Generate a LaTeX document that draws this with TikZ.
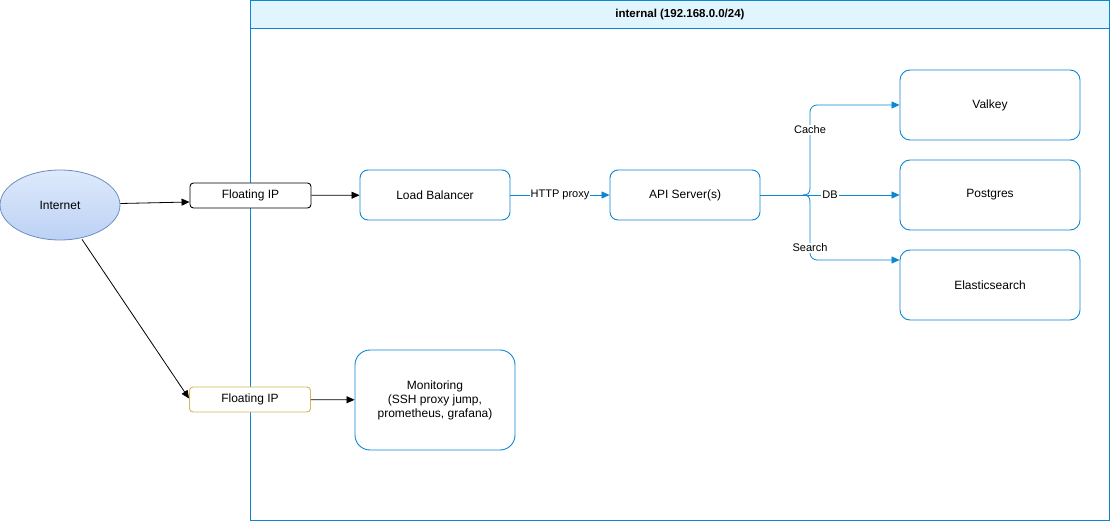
\documentclass[tikz,border=0pt]{standalone}
\usepackage{fontspec}
\setmainfont{Liberation Sans}
\usetikzlibrary{arrows.meta,shapes.geometric}
\definecolor{cblue}{HTML}{0A86D2}
\definecolor{hdrfill}{HTML}{E1F5FE}
\definecolor{ellstroke}{HTML}{6C8EBF}
\definecolor{elltop}{HTML}{DEEAFC}
\definecolor{ellbot}{HTML}{BCD1F4}
\definecolor{ystroke}{HTML}{D6B656}
\tikzset{
  box/.style={draw=cblue, line width=0.9pt, rounded corners=#1, inner sep=0pt, font=\fontsize{12}{14}\selectfont, align=center},
  box/.default=8pt,
  fip/.style={draw=#1, line width=0.9pt, rounded corners=3.5pt, minimum width=121pt, minimum height=25pt, inner sep=0pt, font=\fontsize{12}{14}\selectfont},
  blk/.style={-{Triangle[length=8pt,width=7pt]}, line width=0.8pt, black},
  blu/.style={-{Triangle[length=8pt,width=7pt]}, line width=0.8pt, cblue},
  bluline/.style={line width=0.8pt, cblue},
  elab/.style={fill=white, inner sep=1pt, font=\fontsize{11}{13}\selectfont, text=black},
}
\begin{document}
\begin{tikzpicture}[x=1pt,y=-1pt]
\useasboundingbox (0,0) rectangle (1111,521);
% container
\fill[white] (250.5,0.5) rectangle (1109.5,520);
\filldraw[fill=hdrfill, draw=cblue, line width=0.9pt] (250.5,0.5) rectangle (1109.5,28.5);
\draw[cblue, line width=0.9pt] (250.5,0.5) rectangle (1109.5,520);
\node[font=\bfseries\fontsize{11.5}{13}\selectfont] (hdr) at (680,15) {internal (192.168.0.0/24)};
% nodes
\node[ellipse, draw=ellstroke, line width=0.8pt, top color=elltop, bottom color=ellbot, minimum width=120pt, minimum height=70pt, inner sep=0pt, font=\fontsize{12}{14}\selectfont] (inet) at (60,205) {Internet};
\node[fip=black, fill=white] (fip1) at (250.5,195.5) {Floating IP};
\node[fip=ystroke, fill=white] (fip2) at (250,399.5) {Floating IP};
\node[box, fill=white, minimum width=150pt, minimum height=50pt] (lb) at (435,195) {Load Balancer};
\node[box, fill=white, minimum width=150pt, minimum height=50pt] (api) at (685,195) {API Server(s)};
\node[box=10pt, fill=white, minimum width=180pt, minimum height=70pt] (valkey) at (990,105) {Valkey};
\node[box=10pt, fill=white, minimum width=180pt, minimum height=70pt] (pg) at (990,195) {Postgres};
\node[box=10pt, fill=white, minimum width=180pt, minimum height=70pt] (es) at (990,285) {Elasticsearch};
\node[box=15pt, fill=white, minimum width=160pt, minimum height=100pt] (mon) at (435,400) {Monitoring\\(SSH proxy jump,\\prometheus, grafana)};
% edges
\coordinate (split) at (803,195);
\draw[blk] (inet.east |- 0,203.5) -- (fip1.west |- 0,202);
\draw[blk] (inet.south) ++(22,-1) -- (fip2.west |- 0,398.5);
\draw[blk] (fip1) -- (lb);
\draw[blk] (fip2) -- (mon);
\draw[blu] (lb) -- node[elab] {HTTP proxy} (api);
\draw[blu] (api) -- node[elab, pos=0.5] {DB} (pg);
\draw[bluline] (split) .. controls (808,195) and (810,193) .. (810,188);
\draw[bluline] (split) .. controls (808,195) and (810,197) .. (810,202);
\draw[blu, rounded corners=7pt] (810,188) |- (valkey.west |- 0,105);
\draw[blu, rounded corners=7pt] (810,202) |- (es.west |- 0,260);
\node[elab, fill=white] (lcache) at (810,130) {Cache};
\node[elab, fill=white] (lsearch) at (810,248) {Search};
\end{tikzpicture}
\end{document}
